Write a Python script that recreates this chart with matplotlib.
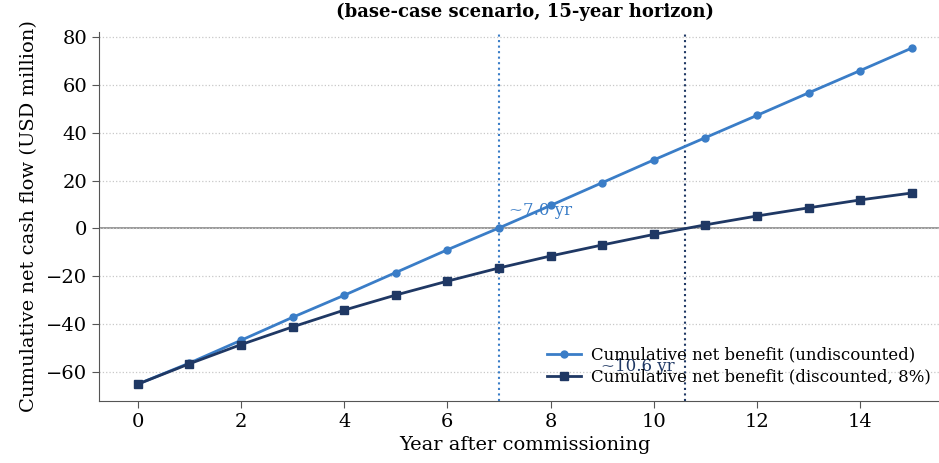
import matplotlib
matplotlib.use("Agg")
import matplotlib.pyplot as plt

plt.rcParams['font.family'] = ['DejaVu Serif']

# data
years = list(range(16))
undiscounted = [-65, -56.2, -46.7, -37.1, -27.9, -18.4, -8.9, 0.2, 9.6, 19.1,
                28.6, 37.9, 47.2, 56.6, 65.9, 75.3]
discounted = [-65, -56.5, -48.5, -41.1, -34.1, -27.8, -22.0, -16.5, -11.5, -6.9,
              -2.5, 1.5, 5.2, 8.6, 11.9, 14.8]
breakeven_undisc = 7.0
breakeven_disc = 10.6

c_undisc = '#3a7dc7'
c_disc = '#1f3864'

fig = plt.figure(figsize=(9.39, 4.63), dpi=100)
ax = fig.add_axes([0.1054, 0.134, 0.907, 0.797])

ax.grid(axis='y', linestyle=':', color='#c8c8c8', linewidth=0.9)
ax.axhline(0, color='#888888', linewidth=1.2, zorder=1)

ax.plot(years, undiscounted, marker='o', markersize=5, linewidth=2, color=c_undisc,
        label='Cumulative net benefit (undiscounted)', zorder=3)
ax.plot(years, discounted, marker='s', markersize=6, linewidth=2, color=c_disc,
        label='Cumulative net benefit (discounted, 8%)', zorder=3)

ax.axvline(breakeven_undisc, color=c_undisc, linestyle=':', linewidth=1.5)
ax.axvline(breakeven_disc, color=c_disc, linestyle=':', linewidth=1.5)
ax.text(breakeven_undisc + 0.2, 7.5, f'~{breakeven_undisc:.1f} yr', color=c_undisc,
        fontsize=12, ha='left', va='center')
ax.text(breakeven_disc - 0.2, -57.5, f'~{breakeven_disc:.1f} yr', color=c_disc,
        fontsize=12, ha='right', va='center')

ax.set_xlim(-0.75, 15.75)
ax.set_ylim(-72, 82)
ax.set_xticks(range(0, 16, 2))
ax.tick_params(labelsize=14, length=5, color='#555555')
ax.set_xlabel('Year after commissioning', fontsize=14, labelpad=4)
ax.set_ylabel('Cumulative net cash flow (USD million)', fontsize=14, labelpad=6)
ax.set_title('(base-case scenario, 15-year horizon)', fontsize=13, fontweight='bold', pad=11)

for s in ['top', 'right']:
    ax.spines[s].set_visible(False)
ax.spines['left'].set_color('#555555')
ax.spines['bottom'].set_color('#555555')

ax.legend(loc='lower right', frameon=False, fontsize=12, bbox_to_anchor=(0.99, 0.01),
          handlelength=2, handletextpad=0.6, borderaxespad=0.3, labelspacing=0.3)

fig.savefig('out.png', dpi=100)
